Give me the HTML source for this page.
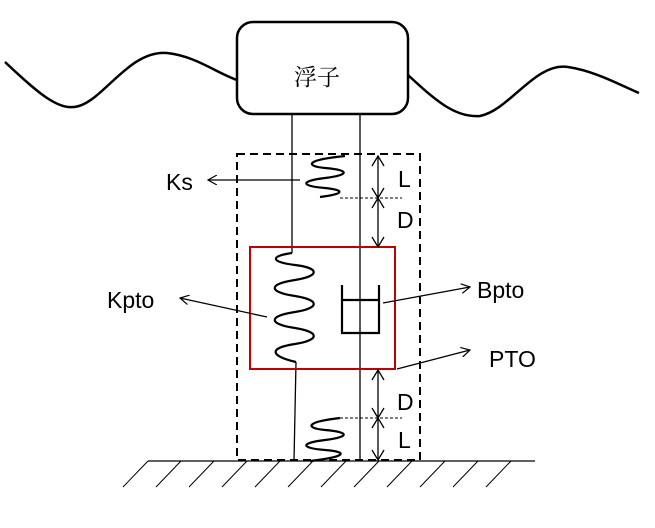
<!DOCTYPE html>
<html><head><meta charset="utf-8"><style>body{margin:0;background:#fff}svg{display:block}</style></head><body>
<svg width="655" height="528" viewBox="0 0 655 528" xmlns="http://www.w3.org/2000/svg" font-family="Liberation Sans, sans-serif">
<defs><marker id="a" markerWidth="10" markerHeight="10" refX="9" refY="5" orient="auto" markerUnits="userSpaceOnUse"><path d="M0,0 L9,5 L0,10" fill="none" stroke="#000" stroke-width="1.2"/></marker></defs>
<g fill="none" stroke="#000" stroke-width="2.5">
<path d="M5,62 C40,95 60,112 79,106 C105,98 130,50 167,53 C195,56 215,72 237,80"/>
<path d="M408,75 C435,100 455,118 480,116 C510,110 535,62 568,67 C595,71 620,85 639,93"/>
<rect x="237" y="22" width="171" height="92" rx="16" fill="#fff"/>
</g>
<text x="317" y="85" font-size="23" text-anchor="middle" font-family="Noto Serif CJK SC, serif">浮子</text>
<g stroke="#000" stroke-width="1.3" fill="none">
<line x1="292" y1="114" x2="292" y2="253"/>
<line x1="360" y1="114" x2="360" y2="461"/>
<line x1="296" y1="362" x2="294" y2="461"/>
</g>
<rect x="237" y="154" width="183" height="306" fill="none" stroke="#000" stroke-width="2" stroke-dasharray="8,5"/>
<g fill="none" stroke="#000" stroke-width="2.2">
<path d="M345,156 C305,160 305,166 325,168 C350,170 350,175 325,178 C300,181 300,186 325,188 C345,190 345,194 320,197"/>
<path d="M292,253 C270,256 270,262 295,265 C320,268 320,276 295,280 C268,284 268,292 295,296 C320,300 320,308 295,312 C268,316 268,324 295,328 C320,332 320,340 295,344 C268,348 270,356 296,362"/>
<path d="M340,418 C305,422 305,428 325,430 C350,432 350,437 325,440 C300,443 300,448 325,450 C350,452 345,457 310,461"/>
<path d="M342,285 V333 H379 V285"/>
<line x1="342" y1="300" x2="379" y2="300"/>
</g>
<rect x="250" y="247" width="145" height="122" fill="none" stroke="#c00000" stroke-width="2"/>
<g stroke="#000" stroke-width="1" stroke-dasharray="3,2"><line x1="340" y1="198" x2="402" y2="198"/><line x1="340" y1="418" x2="402" y2="418"/></g>
<g stroke="#000" stroke-width="1.3" fill="none">
<line x1="378" y1="156" x2="378" y2="246"/>
<line x1="378" y1="370" x2="378" y2="460"/>
<path d="M372,166 L378,156 L384,166 M372,188 L378,198 L384,188 M372,208 L378,198 L384,208 M372,237 L378,247 L384,237"/>
<path d="M372,380 L378,370 L384,380 M372,408 L378,418 L384,408 M372,428 L378,418 L384,428 M372,450 L378,460 L384,450"/>
<line x1="300" y1="180" x2="208" y2="180" marker-end="url(#a)"/>
<line x1="267" y1="317" x2="180" y2="298" marker-end="url(#a)"/>
<line x1="383" y1="303" x2="470" y2="287" marker-end="url(#a)"/>
<line x1="397" y1="369" x2="470" y2="350" marker-end="url(#a)"/>
<line x1="148" y1="461" x2="535" y2="461"/>
</g>
<g stroke="#000" stroke-width="1">
<path d="M148,461 l-25,26 M181,461 l-25,26 M214,461 l-25,26 M247,461 l-25,26 M280,461 l-25,26 M313,461 l-25,26 M346,461 l-25,26 M379,461 l-25,26 M412,461 l-25,26 M445,461 l-25,26 M478,461 l-25,26 M511,461 l-25,26"/>
</g>
<g font-size="23" fill="#000">
<text x="166" y="190">Ks</text>
<text x="107" y="308">Kpto</text>
<text x="477" y="298">Bpto</text>
<text x="489" y="367">PTO</text>
<text x="398" y="187">L</text>
<text x="397" y="228">D</text>
<text x="397" y="410">D</text>
<text x="398" y="448">L</text>
</g>
</svg>
</body></html>
